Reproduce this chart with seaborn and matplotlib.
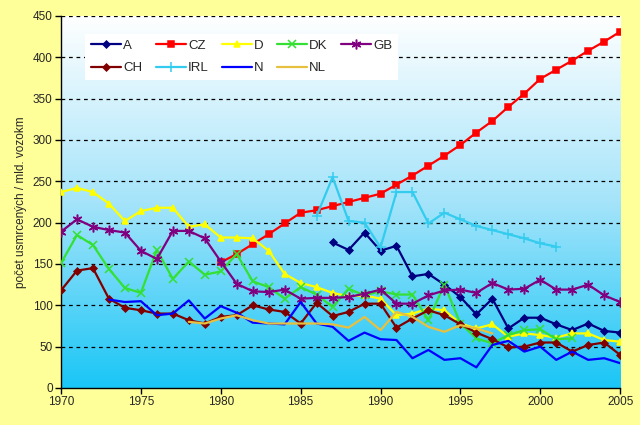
import numpy as np
import pandas as pd
import matplotlib
matplotlib.use("Agg")
import matplotlib.pyplot as plt
import seaborn as sns
from matplotlib.colors import LinearSegmentedColormap

# ---- data ----
A_years = list(range(1987, 2006))
A_vals = [176, 167, 188, 166, 172, 135, 138, 125, 110, 89, 108, 72, 85, 85, 77, 70, 78, 69, 67]

CZ_years = list(range(1980, 2006))
CZ_vals = [152, 162, 174, 186, 199, 212, 215, 220, 225, 230, 235, 246, 257, 269, 281, 294,
           309, 323, 340, 356, 374, 385, 396, 408, 419, 431]

D_years = list(range(1970, 2006))
D_vals = [237, 242, 237, 223, 202, 214, 218, 218, 195, 198, 182, 182, 181, 166, 138, 127,
          122, 115, 111, 112, 108, 88, 90, 96, 94, 78, 72, 77, 62, 66, 64, 61, 66, 66, 58, 56]

DK_years = list(range(1970, 2003))
DK_vals = [151, 185, 173, 144, 121, 115, 167, 132, 153, 137, 141, 162, 129, 122, 108, 122,
           113, 98, 120, 112, 117, 113, 113, 82, 125, 78, 60, 54, 64, 70, 71, 59, 60]

GB_years = list(range(1970, 2006))
GB_vals = [189, 204, 195, 191, 188, 166, 156, 190, 190, 181, 153, 126, 117, 116, 119, 108,
           109, 109, 110, 114, 119, 102, 102, 112, 118, 119, 115, 127, 119, 120, 131, 119,
           119, 125, 112, 104]

CH_years = list(range(1970, 2006))
CH_vals = [118, 142, 145, 108, 97, 94, 90, 90, 82, 78, 86, 88, 100, 95, 92, 78, 103, 87,
           92, 102, 102, 73, 84, 94, 88, 77, 67, 59, 49, 50, 55, 55, 44, 52, 55, 40]

IRL_years = list(range(1986, 2002))
IRL_vals = [208, 255, 202, 200, 170, 237, 237, 199, 212, 204, 196, 191, 186, 181, 175, 171]

N_years = list(range(1973, 2006))
N_vals = [107, 104, 105, 88, 90, 106, 84, 99, 91, 79, 78, 77, 104, 78, 74, 57, 67, 59, 58,
          36, 46, 34, 36, 25, 52, 57, 44, 50, 34, 44, 34, 36, 30]

NL_years = list(range(1978, 1998))
NL_vals = [80, 78, 84, 88, 82, 78, 78, 78, 78, 77, 73, 86, 70, 92, 86, 74, 68, 76, 72, 66]

y_label = "počet usmrcených / mld. vozokm"
x_ticks = list(range(1970, 2006, 5))
y_ticks = list(range(0, 451, 50))

series = [
    ("A", A_years, A_vals, "#000080", "D", 3.5),
    ("CZ", CZ_years, CZ_vals, "#FF0000", "s", 4.5),
    ("D", D_years, D_vals, "#FFFF00", "^", 5),
    ("DK", DK_years, DK_vals, "#33E033", "x", 5.5),
    ("GB", GB_years, GB_vals, "#800080", (6, 2, 0), 7),
    ("CH", CH_years, CH_vals, "#800000", "D", 3.5),
    ("IRL", IRL_years, IRL_vals, "#33CCEE", "+", 7),
    ("N", N_years, N_vals, "#0000FF", None, 0),
    ("NL", NL_years, NL_vals, "#E8C040", None, 0),
]

# ---- style ----
sns.set_style("white")
plt.rcParams["font.family"] = ["Liberation Sans", "DejaVu Sans"]

fig = plt.figure(figsize=(6.4, 4.25), dpi=100, facecolor="#FFFF99")
ax = fig.add_axes([0.0953, 0.0871, 0.8737, 0.8753])

cmap = LinearSegmentedColormap.from_list("bg", ["#FFFFFF", "#A5E4FA", "#1AC6F6"])
grad = np.linspace(0, 1, 256).reshape(-1, 1)
ax.imshow(grad, extent=[1970, 2005, 0, 450], aspect="auto", cmap=cmap,
          origin="upper", zorder=0)

for yv in y_ticks[1:]:
    ax.axhline(yv, color="black", lw=0.9, ls=(0, (3, 3)), zorder=1)

for name, yrs, vals, col, mk, ms in series:
    df = pd.DataFrame({"year": yrs, "value": vals})
    kw = dict(marker=mk, markersize=ms, markeredgecolor=col, markerfacecolor=col,
              markeredgewidth=1.1) if mk is not None else {}
    sns.lineplot(data=df, x="year", y="value", ax=ax, color=col, lw=1.6,
                 label=name, zorder=3, **kw)

h, l = ax.get_legend_handles_labels()
hd = dict(zip(l, h))
order = ["A", "CH", "CZ", "IRL", "D", "N", "DK", "NL", "GB"]
leg = ax.legend([hd[k] for k in order], order, ncol=5, loc="upper left",
                bbox_to_anchor=(0.043, 0.952), frameon=True, facecolor="white",
                edgecolor="none", framealpha=1, fancybox=False, fontsize=9.5,
                handlelength=2.3, columnspacing=1.0, handletextpad=0.15,
                borderpad=0.45, labelspacing=0.75, borderaxespad=0)
leg.get_frame().set_linewidth(0)

ax.set_xlim(1970, 2005)
ax.set_ylim(0, 450)
ax.set_xticks(x_ticks)
ax.set_yticks(y_ticks)
ax.set_xlabel("")
ax.set_ylabel(y_label, fontsize=8.5, labelpad=4)
ax.tick_params(axis="both", direction="out", length=4, width=1, color="black",
               labelsize=8.5, bottom=True, left=True, pad=2)
for s in ["top", "right"]:
    ax.spines[s].set_visible(False)
for s in ["left", "bottom"]:
    ax.spines[s].set_color("black")
    ax.spines[s].set_linewidth(1)

fig.savefig("out.png", dpi=100, facecolor=fig.get_facecolor())
